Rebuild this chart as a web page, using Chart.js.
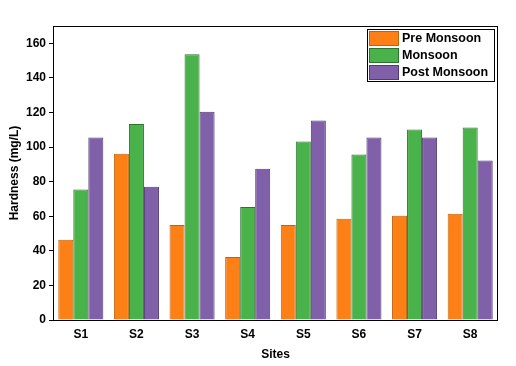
<!DOCTYPE html>
<html>
<head>
    <meta charset="utf-8">
    <title>Hardness</title>
    <script src="https://cdn.jsdelivr.net/npm/chart.js@4.4.1/dist/chart.umd.min.js"></script>
    <style>
        body { margin: 0; background: #fff; }
        #wrap { width: 516px; height: 366px; }
    </style>
</head>
<body>
<div id="wrap"><canvas id="hardness_chart"></canvas></div>
<script>
    const sites = ['S1', 'S2', 'S3', 'S4', 'S5', 'S6', 'S7', 'S8'];
    const preMonsoon = [46.4, 96.2, 55, 36.5, 55, 58.6, 60.3, 61.4];
    const monsoon = [75.4, 113.4, 153.6, 65.3, 103.2, 95.7, 110.1, 111.3];
    const postMonsoon = [105.5, 77.1, 120.4, 87.5, 115.4, 105.5, 105.5, 92.2];
    const yTicks = [0, 20, 40, 60, 80, 100, 120, 140, 160];

    const font = { family: 'Arial, "Liberation Sans", sans-serif', weight: 'bold', size: 12 };

    // frame round the plot + boxed legend in the top right corner
    const framePlugin = {
        id: 'frame',
        afterDraw(chart) {
            const ctx = chart.ctx;
            const a = chart.chartArea;
            ctx.save();
            ctx.strokeStyle = '#000';
            ctx.lineWidth = 1;
            ctx.strokeRect(a.left + 0.5, a.top + 0.5, a.right - a.left - 1, a.bottom - a.top);

            const bx = a.right - 131, by = a.top + 3, bw = 127, bh = 52;
            ctx.strokeRect(bx + 0.5, by + 0.5, bw, bh);
            ctx.font = 'bold 12.5px Arial, "Liberation Sans", sans-serif';
            ctx.textBaseline = 'middle';
            chart.data.datasets.forEach(function (ds, i) {
                const y = by + 2 + i * 17;
                ctx.fillStyle = ds.backgroundColor;
                ctx.fillRect(bx + 2, y, 30, 15);
                ctx.strokeStyle = ds.borderColor;
                ctx.strokeRect(bx + 2.5, y + 0.5, 29, 14);
                ctx.fillStyle = '#000';
                ctx.fillText(ds.label, bx + 35, y + 8);
            });
            ctx.restore();
        }
    };

    new Chart('hardness_chart', {
        type: 'bar',
        data: {
            labels: sites,
            datasets: [
                { label: 'Pre Monsoon', data: preMonsoon, backgroundColor: 'rgb(253,128,23)', borderColor: 'rgb(190,100,15)', borderWidth: 1 },
                { label: 'Monsoon', data: monsoon, backgroundColor: 'rgb(74,178,74)', borderColor: 'rgb(45,115,45)', borderWidth: 1 },
                { label: 'Post Monsoon', data: postMonsoon, backgroundColor: 'rgb(128,96,168)', borderColor: 'rgb(80,58,115)', borderWidth: 1 }
            ]
        },
        options: {
            responsive: true,
            maintainAspectRatio: false,
            animation: false,
            barPercentage: 1,
            categoryPercentage: 0.81,
            layout: { padding: { left: 0, top: 26, right: 18, bottom: 0 } },
            plugins: {
                legend: { display: false },
                tooltip: { enabled: false }
            },
            scales: {
                x: {
                    grid: { display: false, drawTicks: false },
                    border: { display: false },
                    ticks: { color: '#000', font: font, padding: 7, maxRotation: 0 },
                    title: { display: true, text: 'Sites', color: '#000', font: font, padding: { top: 0, bottom: 4 } },
                    afterFit: function (s) { s.height = 46; }
                },
                y: {
                    min: 0,
                    max: 170,
                    afterBuildTicks: function (s) { s.ticks = yTicks.map(v => ({ value: v })); },
                    grid: { drawOnChartArea: false, tickLength: 4, tickColor: '#000' },
                    border: { display: false },
                    ticks: { color: '#000', font: font, padding: 3 },
                    title: { display: true, text: 'Hardness (mg/L)', color: '#000', font: font, padding: { top: 7, bottom: 0 } },
                    afterFit: function (s) { s.width = 53; }
                }
            }
        },
        plugins: [framePlugin]
    });
</script>
</body>
</html>
